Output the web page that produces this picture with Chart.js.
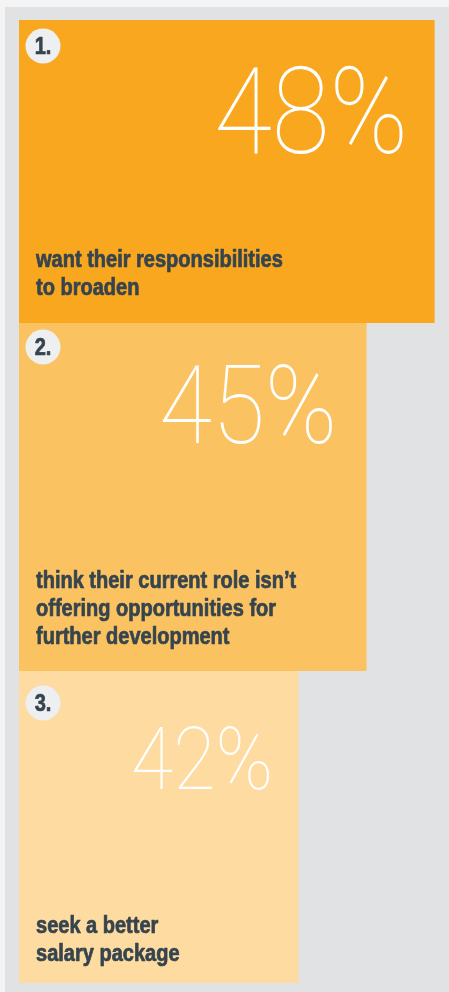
<!DOCTYPE html>
<html>
<head>
<meta charset="utf-8">
<script src="https://cdn.jsdelivr.net/npm/chart.js@4.4.1/dist/chart.umd.min.js"></script>
<style>
    html, body { margin: 0; padding: 0; }
    body { width: 449px; height: 992px; background: #f4f4f4; position: relative; overflow: hidden; }
    #panel { position: absolute; left: 5px; top: 7px; right: 0; bottom: 0; background: #e1e2e4; }
    .box { position: absolute; left: 19px; width: 430px; }
</style>
</head>
<body>
<div id="panel"></div>
<div class="box" id="box1" style="top:20px;height:303px"><canvas id="chart1"></canvas></div>
<div class="box" id="box2" style="top:323px;height:348px"><canvas id="chart2"></canvas></div>
<div class="box" id="box3" style="top:671px;height:312px"><canvas id="chart3"></canvas></div>
<script>
// =========================================================================
// DATOS
// =========================================================================
const ranks = ['1.', '2.', '3.'];
const percentages = [48, 45, 42];
const descriptions = [
    ['want their responsibilities', 'to broaden'],
    ['think their current role isn\u2019t', 'offering opportunities for', 'further development'],
    ['seek a better', 'salary package']
];

// Estilo de cada bloque (colores y ajustes de maquetación)
const barColors = ['#f9a71e', '#fbc262', '#fddba1'];
const pctFontSizes = [120, 110, 88];
const pctRightPad = [26, 29, 25];
const pctBaseline = [133, 120, 118];
const badgeOffsetY = [26, 24, 32];
const textBottomPad = [28, 27, 22];

const TEXT_COLOR = '#36444e';
const BADGE_COLOR = '#eeeff0';
const LABEL_FONT = 'bold 23px "Liberation Sans", Arial, sans-serif';
const LABEL_SQUEEZE = 0.87;   // simula la Helvetica condensada del original

// Escala horizontal compartida por los tres gráficos
const X_MIN = 29.68;
const X_MAX = 48.65;

// Texto estrechado horizontalmente (con trazo opcional para engrosar)
function textoEstrecho(ctx, text, x, y, align, squeeze, grosor) {
    ctx.save();
    ctx.translate(x, y);
    ctx.scale(squeeze, 1);
    ctx.textAlign = align;
    ctx.fillText(text, 0, 0);
    if (grosor) {
        ctx.strokeStyle = ctx.fillStyle;
        ctx.lineWidth = grosor;
        ctx.lineJoin = 'round';
        ctx.strokeText(text, 0, 0);
    }
    ctx.restore();
}

// =========================================================================
// PLUGIN: textos del bloque (número, porcentaje y descripción)
// =========================================================================
const infoPlugin = {
    id: 'infoText',
    afterDatasetsDraw(chart, args, opts) {
        const i = opts.index;
        const bar = chart.getDatasetMeta(0).data[0];
        if (!bar) return;
        const area = chart.chartArea;
        const left = area.left, top = area.top, bottom = area.bottom;
        const right = bar.x;
        const ctx = chart.ctx;
        ctx.save();
        ctx.textBaseline = 'alphabetic';

        // Círculo con el número
        const cx = left + 24, cy = top + badgeOffsetY[i];
        ctx.fillStyle = BADGE_COLOR;
        ctx.beginPath();
        ctx.arc(cx, cy, 17.5, 0, Math.PI * 2);
        ctx.fill();
        ctx.fillStyle = TEXT_COLOR;
        ctx.font = LABEL_FONT;
        textoEstrecho(ctx, ranks[i], cx, cy + 8, 'center', LABEL_SQUEEZE, 0.7);

        // Porcentaje grande
        ctx.fillStyle = '#ffffff';
        ctx.font = `100 ${pctFontSizes[i]}px Roboto, Lato, sans-serif`;
        textoEstrecho(ctx, percentages[i] + '%', right - pctRightPad[i], top + pctBaseline[i], 'right', 0.88);

        // Descripción
        ctx.fillStyle = TEXT_COLOR;
        ctx.font = LABEL_FONT;
        const lines = descriptions[i];
        const lineHeight = 28;
        lines.forEach((line, k) => {
            const yLine = bottom - textBottomPad[i] - (lines.length - 1 - k) * lineHeight;
            textoEstrecho(ctx, line, left + 17, yLine, 'left', LABEL_SQUEEZE, 0.7);
        });

        ctx.restore();
    }
};

// =========================================================================
// GRÁFICOS
// =========================================================================
function crearBloque(i) {
    const canvas = document.getElementById('chart' + (i + 1));
    return new Chart(canvas.getContext('2d'), {
        type: 'bar',
        data: {
            labels: [ranks[i]],
            datasets: [{
                data: [percentages[i]],
                backgroundColor: barColors[i],
                borderWidth: 0,
                barPercentage: 1,
                categoryPercentage: 1
            }]
        },
        options: {
            indexAxis: 'y',
            responsive: true,
            maintainAspectRatio: false,
            animation: false,
            layout: { padding: 0 },
            plugins: {
                legend: { display: false },
                tooltip: { enabled: false },
                infoText: { index: i }
            },
            scales: {
                x: { type: 'linear', min: X_MIN, max: X_MAX, display: false },
                y: { display: false }
            }
        },
        plugins: [infoPlugin]
    });
}

percentages.forEach((_, i) => crearBloque(i));
</script>
</body>
</html>
